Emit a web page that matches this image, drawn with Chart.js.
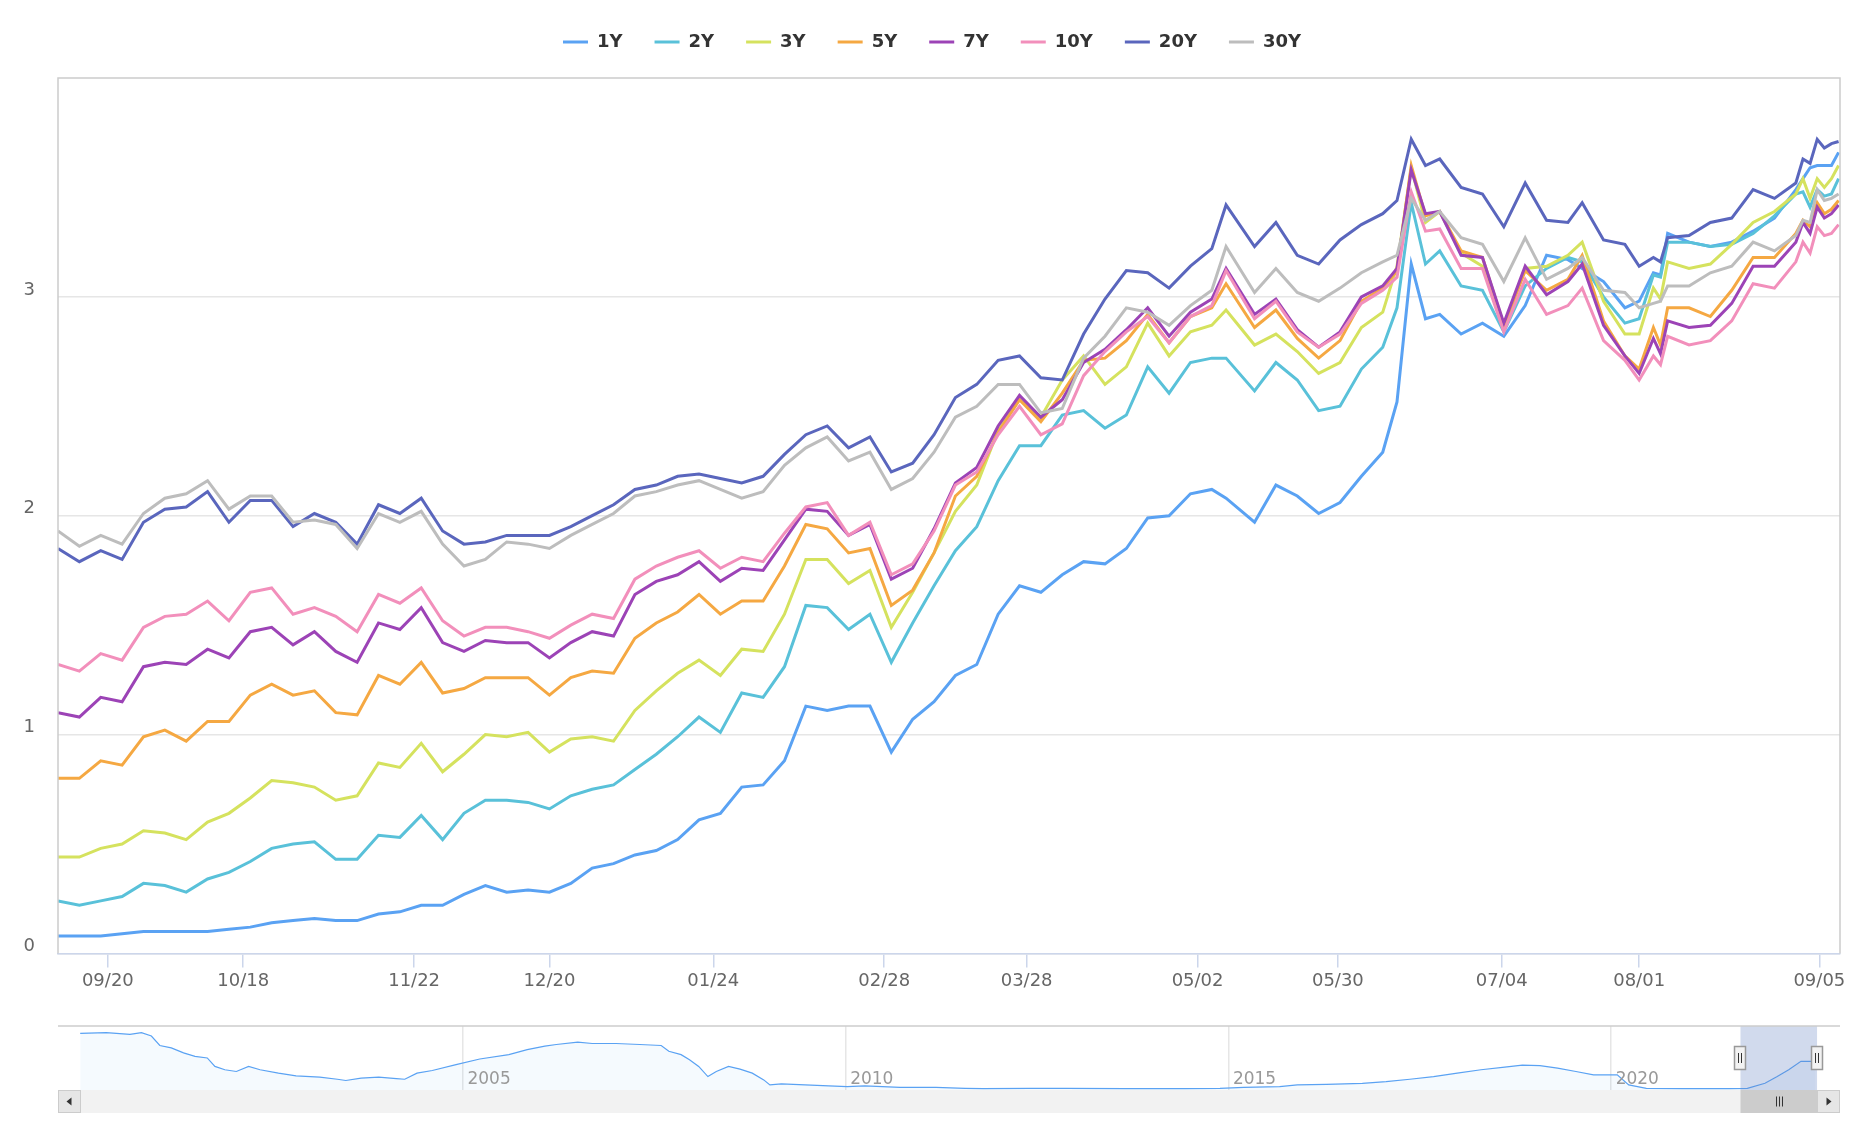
<!DOCTYPE html>
<html>
<head>
<meta charset="utf-8">
<script src="https://cdn.jsdelivr.net/npm/chart.js@4.4.1/dist/chart.umd.min.js"></script>
<style>
  html, body { margin: 0; padding: 0; background: #fff; }
  #wrap { position: relative; width: 1858px; height: 1128px; }
  #main { position: absolute; left: 0; top: 0; }
  #nav { position: absolute; left: 0; top: 1010px; }
</style>
</head>
<body>
<div id="wrap">
  <canvas id="main" width="1858" height="1010"></canvas>
  <canvas id="nav" width="1858" height="118"></canvas>
</div>
<script>
// trading-day number counted from 2021-09-09 (holidays skipped, like the ordinal axis)
const dayIdx = [0,3,6,9,12,15,18,21,24,27,30,33,36,39,42,45,48,51,54,57,60,63,66,69,
  72,75,78,81,84,87,90,93,96,99,102,105,108,111,114,117,120,123,126,129,
  132,135,138,141,144,147,150,153,156,159,162,164,168,171,174,177,180,183,186,
  188,190,192,194,197,200,203,206,209,212,214,217,220,222,224,225,226,229,232,235,238,241,244,245,246,247,248,249,250];

const tickIdx = [7, 26, 50, 69, 92, 116, 136, 160, 179.7, 202.7, 222, 247.3];
const tickLabels = ['09/20','10/18','11/22','12/20','01/24','02/28','03/28','05/02','05/30','07/04','08/01','09/05'];
const yTicks = [0, 1, 2, 3];

const y1 = [0.08,0.08,0.08,0.09,0.10,0.10,0.10,0.10,0.11,0.12,0.14,0.15,0.16,0.15,0.15,0.18,0.19,0.22,0.22,0.27,0.31,0.28,0.29,0.28,
  0.32,0.39,0.41,0.45,0.47,0.52,0.61,0.64,0.76,0.77,0.88,1.13,1.11,1.13,1.13,0.92,1.07,1.15,1.27,1.32,
  1.55,1.68,1.65,1.73,1.79,1.78,1.85,1.99,2.00,2.10,2.12,2.08,1.97,2.14,2.09,2.01,2.06,2.18,2.29,
  2.52,3.15,2.90,2.92,2.83,2.88,2.82,2.96,3.19,3.17,3.13,3.07,2.95,2.98,3.11,3.10,3.29,3.25,3.23,3.25,3.30,3.36,3.49,3.54,3.59,3.60,3.60,3.60,3.66];
const y2 = [0.24,0.22,0.24,0.26,0.32,0.31,0.28,0.34,0.37,0.42,0.48,0.50,0.51,0.43,0.43,0.54,0.53,0.63,0.52,0.64,0.70,0.70,0.69,0.66,
  0.72,0.75,0.77,0.84,0.91,0.99,1.08,1.01,1.19,1.17,1.31,1.59,1.58,1.48,1.55,1.33,1.51,1.68,1.84,1.95,
  2.16,2.32,2.32,2.46,2.48,2.40,2.46,2.68,2.56,2.70,2.72,2.72,2.57,2.70,2.62,2.48,2.50,2.67,2.77,
  2.95,3.43,3.15,3.21,3.05,3.03,2.84,3.05,3.13,3.18,3.16,3.00,2.88,2.90,3.10,3.09,3.25,3.25,3.23,3.24,3.29,3.37,3.47,3.48,3.41,3.49,3.46,3.47,3.54];
const y3 = [0.44,0.44,0.48,0.50,0.56,0.55,0.52,0.60,0.64,0.71,0.79,0.78,0.76,0.70,0.72,0.87,0.85,0.96,0.83,0.91,1.00,0.99,1.01,0.92,
  0.98,0.99,0.97,1.11,1.20,1.28,1.34,1.27,1.39,1.38,1.55,1.80,1.80,1.69,1.75,1.49,1.65,1.83,2.02,2.14,
  2.39,2.53,2.45,2.62,2.73,2.60,2.68,2.88,2.73,2.84,2.87,2.94,2.78,2.83,2.75,2.65,2.70,2.86,2.93,
  3.14,3.59,3.34,3.39,3.20,3.14,2.85,3.13,3.14,3.19,3.25,2.98,2.83,2.83,3.04,2.99,3.16,3.13,3.15,3.24,3.34,3.39,3.47,3.54,3.45,3.54,3.50,3.54,3.60];
const y5 = [0.80,0.80,0.88,0.86,0.99,1.02,0.97,1.06,1.06,1.18,1.23,1.18,1.20,1.10,1.09,1.27,1.23,1.33,1.19,1.21,1.26,1.26,1.26,1.18,
  1.26,1.29,1.28,1.44,1.51,1.56,1.64,1.55,1.61,1.61,1.77,1.96,1.94,1.83,1.85,1.59,1.66,1.83,2.09,2.18,
  2.38,2.53,2.43,2.56,2.71,2.72,2.80,2.92,2.79,2.91,2.95,3.06,2.86,2.94,2.81,2.72,2.80,2.98,3.04,
  3.12,3.60,3.37,3.39,3.21,3.18,2.87,3.12,3.03,3.08,3.19,2.89,2.73,2.67,2.86,2.78,2.95,2.95,2.91,3.03,3.18,3.18,3.29,3.35,3.32,3.43,3.38,3.40,3.44];
const y7 = [1.10,1.08,1.17,1.15,1.31,1.33,1.32,1.39,1.35,1.47,1.49,1.41,1.47,1.38,1.33,1.51,1.48,1.58,1.42,1.38,1.43,1.42,1.42,1.35,
  1.42,1.47,1.45,1.64,1.70,1.73,1.79,1.70,1.76,1.75,1.89,2.03,2.02,1.91,1.96,1.71,1.76,1.94,2.15,2.22,
  2.41,2.55,2.45,2.53,2.70,2.76,2.85,2.95,2.82,2.93,2.99,3.13,2.92,2.99,2.85,2.77,2.84,3.00,3.05,
  3.13,3.58,3.38,3.39,3.19,3.18,2.88,3.14,3.01,3.07,3.15,2.87,2.73,2.65,2.81,2.74,2.89,2.86,2.87,2.97,3.14,3.14,3.25,3.34,3.29,3.41,3.36,3.38,3.42];
const y10 = [1.32,1.29,1.37,1.34,1.49,1.54,1.55,1.61,1.52,1.65,1.67,1.55,1.58,1.54,1.47,1.64,1.60,1.67,1.52,1.45,1.49,1.49,1.47,1.44,
  1.50,1.55,1.53,1.71,1.77,1.81,1.84,1.76,1.81,1.79,1.92,2.04,2.06,1.91,1.97,1.73,1.78,1.93,2.14,2.20,
  2.37,2.50,2.37,2.42,2.64,2.75,2.84,2.91,2.79,2.91,2.96,3.12,2.90,2.98,2.84,2.77,2.83,2.97,3.03,
  3.09,3.48,3.30,3.31,3.13,3.13,2.84,3.08,2.92,2.96,3.04,2.80,2.71,2.62,2.73,2.69,2.82,2.78,2.80,2.89,3.06,3.04,3.16,3.25,3.20,3.32,3.28,3.29,3.33];
const y20 = [1.85,1.79,1.84,1.80,1.97,2.03,2.04,2.11,1.97,2.07,2.07,1.95,2.01,1.97,1.87,2.05,2.01,2.08,1.93,1.87,1.88,1.91,1.91,1.91,
  1.95,2.00,2.05,2.12,2.14,2.18,2.19,2.17,2.15,2.18,2.28,2.37,2.41,2.31,2.36,2.20,2.24,2.37,2.54,2.60,
  2.71,2.73,2.63,2.62,2.83,2.99,3.12,3.11,3.04,3.14,3.22,3.42,3.23,3.34,3.19,3.15,3.26,3.33,3.38,
  3.44,3.72,3.60,3.63,3.50,3.47,3.32,3.52,3.35,3.34,3.43,3.26,3.24,3.14,3.18,3.16,3.27,3.28,3.34,3.36,3.49,3.45,3.52,3.63,3.61,3.72,3.68,3.70,3.71];
const y30 = [1.93,1.86,1.91,1.87,2.01,2.08,2.10,2.16,2.03,2.09,2.09,1.97,1.98,1.96,1.85,2.01,1.97,2.02,1.87,1.77,1.80,1.88,1.87,1.85,
  1.91,1.96,2.01,2.09,2.11,2.14,2.16,2.12,2.08,2.11,2.23,2.31,2.36,2.25,2.29,2.12,2.17,2.29,2.45,2.50,
  2.60,2.60,2.47,2.49,2.72,2.82,2.95,2.93,2.87,2.96,3.03,3.23,3.02,3.13,3.02,2.98,3.04,3.11,3.16,
  3.19,3.45,3.35,3.39,3.27,3.24,3.07,3.27,3.08,3.13,3.18,3.03,3.02,2.95,2.97,2.98,3.05,3.05,3.11,3.14,3.25,3.21,3.28,3.35,3.34,3.49,3.44,3.45,3.47];

// navigator: 1Y yield over the whole history (decimal years)
const navYear = [2000.0,2000.34,2000.65,2000.80,2000.93,2001.04,2001.19,2001.35,2001.50,2001.66,2001.76,2001.89,2002.04,2002.20,2002.35,2002.59,2002.82,
  2003.13,2003.36,2003.47,2003.67,2003.90,2004.13,2004.24,2004.40,2004.60,2004.91,2005.22,2005.60,2005.84,2006.07,2006.22,2006.50,2006.69,
  2007.00,2007.31,2007.59,2007.69,2007.85,2007.96,2008.08,2008.20,2008.31,2008.47,2008.62,2008.78,2008.93,2009.01,2009.16,2009.47,2009.78,
  2010.02,2010.25,2010.71,2011.18,2011.56,2011.80,2012.41,2012.88,2013.65,2014.43,2014.89,2015.20,2015.67,2015.90,2016.28,2016.75,2017.06,
  2017.37,2017.68,2017.99,2018.30,2018.61,2018.84,2019.07,2019.30,2019.54,2019.77,2020.08,2020.23,2020.46,2020.93,2021.55,2021.78,2022.01,
  2022.17,2022.32,2022.48,2022.67];
const navYield = [6.04,6.11,5.93,6.11,5.75,4.72,4.47,3.92,3.55,3.37,2.45,2.09,1.90,2.45,2.09,1.72,1.43,
  1.28,1.06,0.92,1.17,1.28,1.13,1.06,1.72,2.01,2.64,3.26,3.73,4.28,4.65,4.83,5.09,4.94,
  4.94,4.83,4.72,4.10,3.73,3.18,2.45,1.35,1.90,2.45,2.16,1.72,0.99,0.44,0.55,0.44,0.33,
  0.26,0.33,0.18,0.18,0.07,0.04,0.07,0.07,0.04,0.04,0.07,0.18,0.26,0.44,0.51,0.62,0.81,
  1.06,1.35,1.72,2.09,2.38,2.60,2.53,2.27,1.90,1.54,1.54,0.44,0.07,0.04,0.04,0.07,0.62,
  1.35,2.09,3.00,3.00];
const navTicks = [2005, 2010, 2015, 2020];
const navTickLabels = ['2005', '2010', '2015', '2020'];
const navRange = [2021.69, 2022.69];

const FONT = '"DejaVu Sans", "Lucida Grande", Arial, sans-serif';
Chart.defaults.font.family = FONT;

const series = [
  ['1Y', y1, '#5aa2f3'],
  ['2Y', y2, '#59c1d9'],
  ['3Y', y3, '#d5e25e'],
  ['5Y', y5, '#f5a842'],
  ['7Y', y7, '#9c43b6'],
  ['10Y', y10, '#f28fbb'],
  ['20Y', y20, '#5a66bd'],
  ['30Y', y30, '#bdbdbd']
];

// push the plot down below the legend, nudge the legend row like the original
const legendGap = {
  id: 'legendGap',
  beforeLayout(chart) {
    const lg = chart.legend;
    if (lg && !lg._gap) {
      const fit = lg.fit.bind(lg);
      lg.fit = function () { fit(); this.height += 18; };
      lg._gap = true;
    }
  },
  afterLayout(chart) {
    const lg = chart.legend;
    lg.left += 12;
    lg.right += 12;
    lg.top += 1;
  }
};

const plotFrame = {
  id: 'plotFrame',
  afterDraw(chart) {
    const { ctx, chartArea: a } = chart;
    ctx.save();
    ctx.strokeStyle = '#cccccc';
    ctx.lineWidth = 1.5;
    ctx.beginPath();
    ctx.moveTo(a.left, a.bottom);
    ctx.lineTo(a.left, a.top);
    ctx.lineTo(a.right, a.top);
    ctx.lineTo(a.right, a.bottom);
    ctx.stroke();
    ctx.restore();
  }
};

new Chart(document.getElementById('main'), {
  type: 'line',
  data: {
    datasets: series.map(([label, vals, color], k) => ({
      label,
      data: dayIdx.map((d, j) => ({ x: d, y: vals[j] })),
      borderColor: color,
      backgroundColor: color,
      borderWidth: 3,
      pointRadius: 0,
      tension: 0,
      order: -k
    }))
  },
  options: {
    responsive: false,
    animation: false,
    devicePixelRatio: 1,
    layout: { padding: { top: 0, left: 0, right: 18, bottom: 15 } },
    plugins: {
      tooltip: { enabled: false },
      legend: {
        position: 'top',
        labels: {
          boxWidth: 25,
          boxHeight: 3,
          padding: 32,
          color: '#333333',
          font: { size: 18, weight: 'bold' },
          generateLabels: chart => chart.data.datasets.map((ds, i) => ({
            text: ds.label,
            fillStyle: ds.borderColor,
            strokeStyle: ds.borderColor,
            lineWidth: 0,
            fontColor: '#333333',
            hidden: false,
            datasetIndex: i
          }))
        }
      }
    },
    scales: {
      x: {
        type: 'linear',
        min: 0,
        max: 250.2,
        afterBuildTicks: s => { s.ticks = tickIdx.map(v => ({ value: v })); },
        ticks: {
          callback: (v, i) => tickLabels[i],
          color: '#666666',
          font: { size: 18 },
          padding: 3,
          maxRotation: 0,
          autoSkip: false
        },
        grid: { drawOnChartArea: false, drawTicks: true, tickLength: 14, color: '#ccd6eb', lineWidth: 1.5 },
        border: { color: '#ccd6eb', width: 1.5 }
      },
      y: {
        min: 0,
        max: 4,
        afterBuildTicks: s => { s.ticks = yTicks.map(v => ({ value: v })); },
        afterFit: s => { s.width = 58; },
        ticks: { color: '#666666', font: { size: 18 }, padding: 23, labelOffset: -7, callback: v => String(v) },
        grid: { color: '#e6e6e6', lineWidth: 1.5, drawTicks: false },
        border: { display: false }
      }
    }
  },
  plugins: [legendGap, plotFrame]
});

// navigator mask, handles, year labels and scrollbar
const navigatorUi = {
  id: 'navigatorUi',
  afterDraw(chart) {
    const { ctx, chartArea: a } = chart;
    const xs = chart.scales.x;
    const x0 = xs.getPixelForValue(navRange[0]);
    const x1 = xs.getPixelForValue(navRange[1]);
    ctx.save();
    // year labels inside the navigator
    ctx.fillStyle = '#999999';
    ctx.font = '17px ' + FONT;
    ctx.textBaseline = 'alphabetic';
    ctx.textAlign = 'left';
    navTicks.forEach((t, i) => ctx.fillText(navTickLabels[i], xs.getPixelForValue(t) + 4.5, a.bottom - 6));
    // selected range
    ctx.fillStyle = 'rgba(102,133,194,0.3)';
    ctx.fillRect(x0, a.top, x1 - x0, a.bottom - a.top);
    // outline
    ctx.strokeStyle = '#cccccc';
    ctx.lineWidth = 1.5;
    ctx.beginPath();
    ctx.moveTo(a.left, a.top);
    ctx.lineTo(a.right, a.top);
    ctx.stroke();
    // scrollbar
    const sy = a.bottom, sh = 23, bw = 23;
    ctx.fillStyle = '#f2f2f2';
    ctx.fillRect(a.left, sy, a.right - a.left, sh);
    ctx.fillStyle = '#cccccc';
    ctx.fillRect(x0, sy, x1 - x0, sh);
    ctx.strokeStyle = '#cccccc';
    ctx.lineWidth = 1;
    [[a.left, -1], [a.right - bw, 1]].forEach(([bx, dir]) => {
      ctx.fillStyle = '#e6e6e6';
      ctx.fillRect(bx, sy, bw, sh);
      ctx.strokeRect(bx + 0.5, sy + 0.5, bw - 1, sh - 1);
      const cx = bx + bw / 2, cy = sy + sh / 2;
      ctx.fillStyle = '#333333';
      ctx.beginPath();
      ctx.moveTo(cx + dir * 3, cy);
      ctx.lineTo(cx - dir * 2, cy - 4);
      ctx.lineTo(cx - dir * 2, cy + 4);
      ctx.closePath();
      ctx.fill();
    });
    ctx.strokeStyle = '#333333';
    ctx.lineWidth = 1;
    const tc = Math.round((x0 + x1) / 2);
    [-3, 0, 3].forEach(d => {
      ctx.beginPath();
      ctx.moveTo(tc + d + 0.5, sy + sh / 2 - 5);
      ctx.lineTo(tc + d + 0.5, sy + sh / 2 + 5);
      ctx.stroke();
    });
    // handles
    const hy = (a.top + a.bottom) / 2;
    [x0, x1].forEach(hx => {
      ctx.fillStyle = '#f2f2f2';
      ctx.strokeStyle = '#999999';
      ctx.lineWidth = 1.5;
      ctx.beginPath();
      ctx.rect(Math.round(hx) - 5.5, hy - 11.5, 11, 23);
      ctx.fill();
      ctx.stroke();
      ctx.strokeStyle = '#333333';
      ctx.lineWidth = 1;
      [-1.5, 1.5].forEach(d => {
        ctx.beginPath();
        ctx.moveTo(Math.round(hx) + d, hy - 5);
        ctx.lineTo(Math.round(hx) + d, hy + 5);
        ctx.stroke();
      });
    });
    ctx.restore();
  }
};

new Chart(document.getElementById('nav'), {
  type: 'line',
  data: {
    datasets: [{
      data: navYear.map((t, k) => ({ x: t, y: navYield[k] })),
      borderColor: '#5aa2f3',
      borderWidth: 1.2,
      backgroundColor: 'rgba(90,162,243,0.06)',
      fill: 'start',
      pointRadius: 0,
      tension: 0
    }]
  },
  options: {
    responsive: false,
    animation: false,
    devicePixelRatio: 1,
    layout: { padding: { left: 58, right: 18, top: 16, bottom: 38 } },
    plugins: { legend: { display: false }, tooltip: { enabled: false } },
    scales: {
      x: {
        type: 'linear',
        min: 1999.71,
        max: 2022.99,
        afterBuildTicks: s => { s.ticks = navTicks.map(v => ({ value: v })); },
        ticks: { display: false },
        grid: { color: '#e6e6e6', lineWidth: 1.5, drawTicks: false },
        border: { display: false }
      },
      y: { display: false, min: -0.11, max: 6.84 }
    }
  },
  plugins: [navigatorUi]
});
</script>
</body>
</html>
